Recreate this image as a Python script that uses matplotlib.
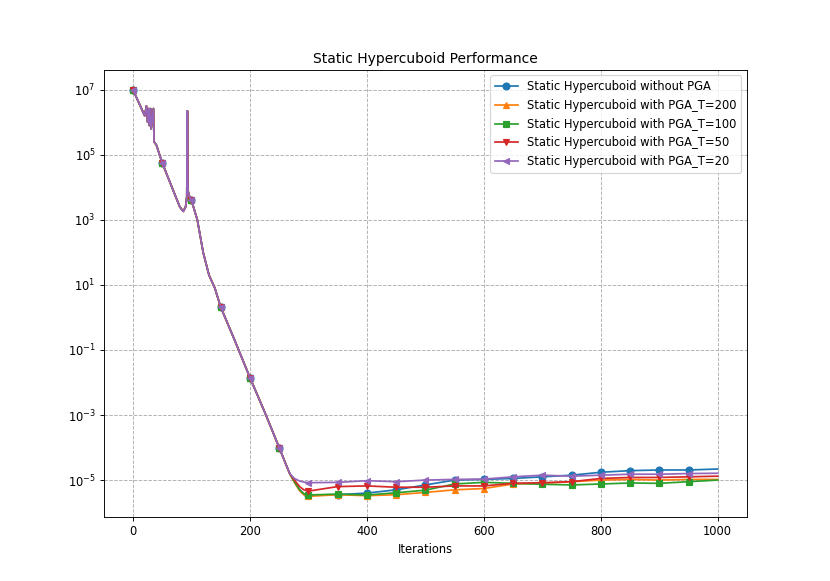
import numpy as np
import matplotlib.pyplot as plt

# shared early phase (iteration, log10 of objective)
early_iters = [0, 10, 20, 23, 25, 27, 28, 30, 31, 35, 36, 40, 50, 60, 70, 80, 86, 90, 92, 93, 94, 96,
               100, 110, 120, 130, 140, 150, 175, 200, 225, 250, 260, 268]
early_log = [7.0, 6.6, 6.2, 6.5, 6.0, 6.42, 5.9, 6.42, 5.8, 6.42, 5.4, 5.3, 4.75, 4.3, 3.85, 3.4, 3.26, 3.4,
             3.7, 6.35, 3.9, 3.75, 3.6, 3.0, 2.0, 1.3, 0.9, 0.32, -0.75, -1.85, -2.9, -4.0, -4.45, -4.8]

# where the runs split just before iteration 300
bend_iters = [276, 285, 292]
bend_no_pga = [-5.05, -5.3, -5.42]
bend_t200 = [-5.07, -5.33, -5.45]
bend_t100 = [-5.05, -5.3, -5.42]
bend_t50 = [-5.0, -5.2, -5.3]
bend_t20 = [-4.95, -5.03, -5.06]

# tail: every 50 iterations from 300 to 1000
tail_iters = list(range(300, 1001, 50))
tail_no_pga = [-5.46, -5.45, -5.4, -5.3, -5.15, -5.0, -4.98, -4.95, -4.9, -4.85, -4.76, -4.71, -4.69, -4.69, -4.66]
tail_t200 = [-5.5, -5.45, -5.48, -5.45, -5.38, -5.3, -5.26, -5.12, -5.1, -5.05, -5.0, -4.98, -5.0, -4.98, -4.98]
tail_t100 = [-5.46, -5.43, -5.46, -5.39, -5.31, -5.12, -5.07, -5.1, -5.13, -5.15, -5.12, -5.09, -5.1, -5.05, -5.0]
tail_t50 = [-5.34, -5.2, -5.18, -5.22, -5.22, -5.18, -5.18, -5.1, -5.08, -5.05, -4.95, -4.92, -4.92, -4.9, -4.88]
tail_t20 = [-5.08, -5.07, -5.02, -5.05, -5.0, -4.98, -4.97, -4.9, -4.85, -4.88, -4.85, -4.82, -4.82, -4.8, -4.79]

labels = ['Static Hypercuboid without PGA', 'Static Hypercuboid with PGA_T=200',
          'Static Hypercuboid with PGA_T=100', 'Static Hypercuboid with PGA_T=50',
          'Static Hypercuboid with PGA_T=20']
bends = [bend_no_pga, bend_t200, bend_t100, bend_t50, bend_t20]
tails = [tail_no_pga, tail_t200, tail_t100, tail_t50, tail_t20]
markers = ['o', '^', 's', 'v', '<']

fig, ax = plt.subplots(figsize=(10, 7), dpi=83)

iters = np.array(early_iters + bend_iters + tail_iters)
marks = [i for i, it in enumerate(iters) if it % 50 == 0 and it < 1000]
for lab, bend, tail, m in zip(labels, bends, tails, markers):
    vals = 10.0 ** np.array(early_log + bend + tail)
    ax.plot(iters, vals, marker=m, markevery=marks, label=lab)

ax.set_yscale('log')
ax.set_title('Static Hypercuboid Performance')
ax.set_xlabel('Iterations')
ax.set_ylim(10 ** -6.138, 10 ** 7.615)
ax.grid(True, linestyle='--', color='#b0b0b0')
ax.legend(loc='upper right')

plt.savefig('out.png')
